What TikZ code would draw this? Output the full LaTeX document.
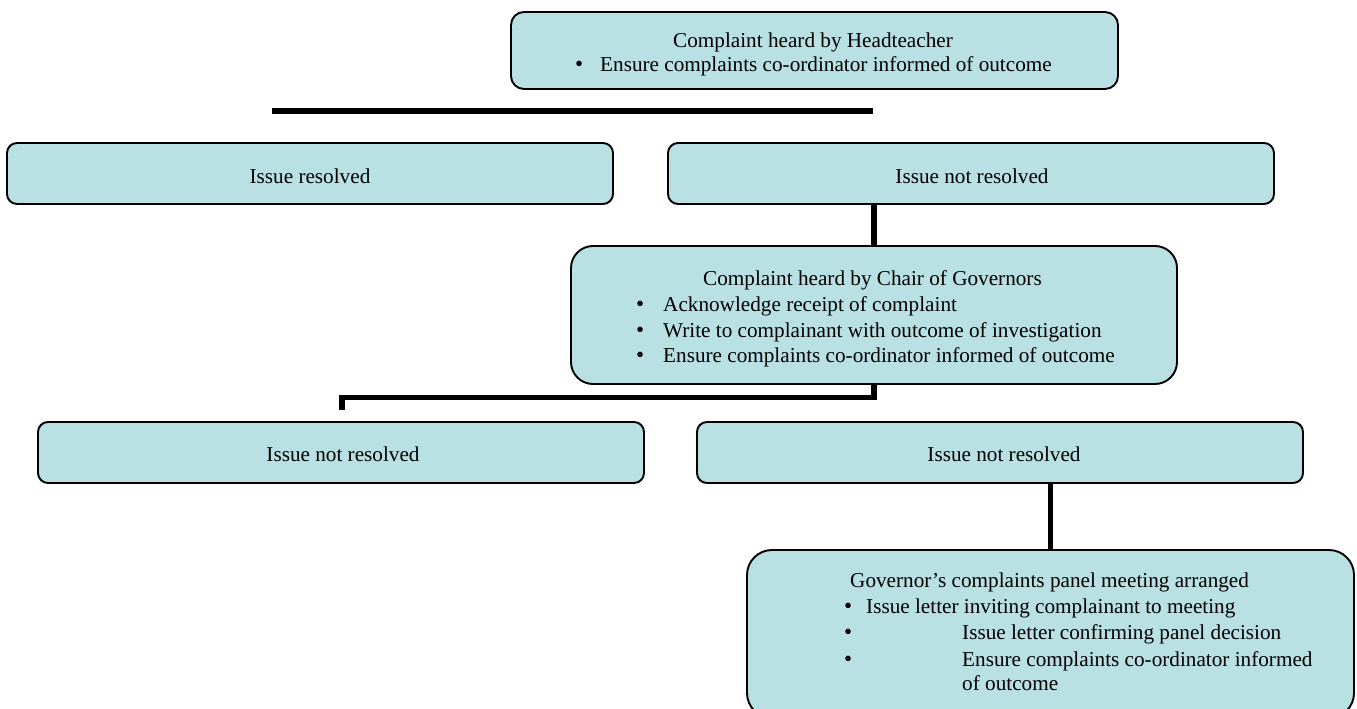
\documentclass[tikz,border=0pt]{standalone}
\usepackage{fontspec}
\setmainfont{Liberation Serif}
\definecolor{boxfill}{RGB}{185,224,227}
\newcommand{\bulitem}[1]{\makebox[0pt][c]{\fontsize{23}{23}\selectfont\raisebox{-0.5pt}{\textbullet}}\hspace{#1}}
\tikzset{
  box/.style={draw=black, line width=1.9pt, fill=boxfill, minimum width=606pt, inner sep=0pt, outer sep=0pt},
  conn/.style={draw=black, line width=5.5pt, line cap=butt, line join=miter},
  txt/.style={anchor=base, inner sep=0pt, font=\fontsize{21.2}{25.5}\selectfont},
  txtw/.style={anchor=base west, inner sep=0pt, font=\fontsize{21.2}{25.5}\selectfont},
}
\begin{document}
\begin{tikzpicture}[x=1pt, y=-1pt]
\useasboundingbox (0,0) rectangle (1357,709);
\clip (0,0) rectangle (1357,709);
% boxes
\node[box, rounded corners=13pt, minimum width=607pt, minimum height=77pt] (top) at (814.5,50.5) {};
\node[box, rounded corners=10pt, minimum height=61pt] (ir) at (310,173.5) {};
\node[box, rounded corners=10pt, minimum height=61pt] (inr1) at (971,173.5) {};
\node[box, rounded corners=22pt, minimum height=138pt] (chair) at (874,315) {};
\node[box, rounded corners=10pt, minimum height=61pt] (inr2) at (341,452.5) {};
\node[box, rounded corners=10pt, minimum height=61pt] (inr3) at (1000,452.5) {};
\node[box, rounded corners=25pt, minimum width=607pt, minimum height=168pt] (bot) at (1050.5,634) {};
% free line under top box
\coordinate (la) at (272,111);
\coordinate (lb) at (873,111);
\draw[conn] (la) -- (lb);
% connectors
\draw[conn] (chair.north) -- (chair.north |- inr1.south);
\coordinate (j1) at (342,397.5);
\coordinate (stub) at (342,410);
\draw[conn] (chair.south) -- (chair.south |- j1) -- (j1) -- (stub);
\draw[conn] (bot.north) -- (bot.north |- inr3.south);
% texts: top
\node[txt] (t1) at (813,48) {Complaint heard by Headteacher};
\node[txtw] (t2) at (579,71) {\bulitem{21pt}Ensure complaints co-ordinator informed of outcome};
% issue texts
\node[txt] (irt) at (310,183) {Issue resolved};
\node[txt] (inr1t) at (972,183) {Issue not resolved};
\node[txt] (inr2t) at (343,461) {Issue not resolved};
\node[txt] (inr3t) at (1004,461) {Issue not resolved};
% chair texts
\node[txtw] (c0) at (703,285) {Complaint heard by Chair of Governors};
\node[txtw] (c1) at (640,311) {\bulitem{23pt}Acknowledge receipt of complaint};
\node[txtw] (c2) at (640,337) {\bulitem{23pt}Write to complainant with outcome of investigation};
\node[txtw] (c3) at (640,362) {\bulitem{23pt}Ensure complaints co-ordinator informed of outcome};
% bottom texts
\node[txtw] (g0) at (850,587) {Governor’s complaints panel meeting arranged};
\node[txtw] (g1) at (848,613) {\bulitem{18pt}Issue letter inviting complainant to meeting};
\node[txtw] (g2) at (848,639) {\bulitem{114pt}Issue letter confirming panel decision};
\node[txtw] (g3) at (848,666) {\bulitem{114pt}Ensure complaints co-ordinator informed};
\node[txtw] (g4) at (962,690) {of outcome};
\end{tikzpicture}
\end{document}
